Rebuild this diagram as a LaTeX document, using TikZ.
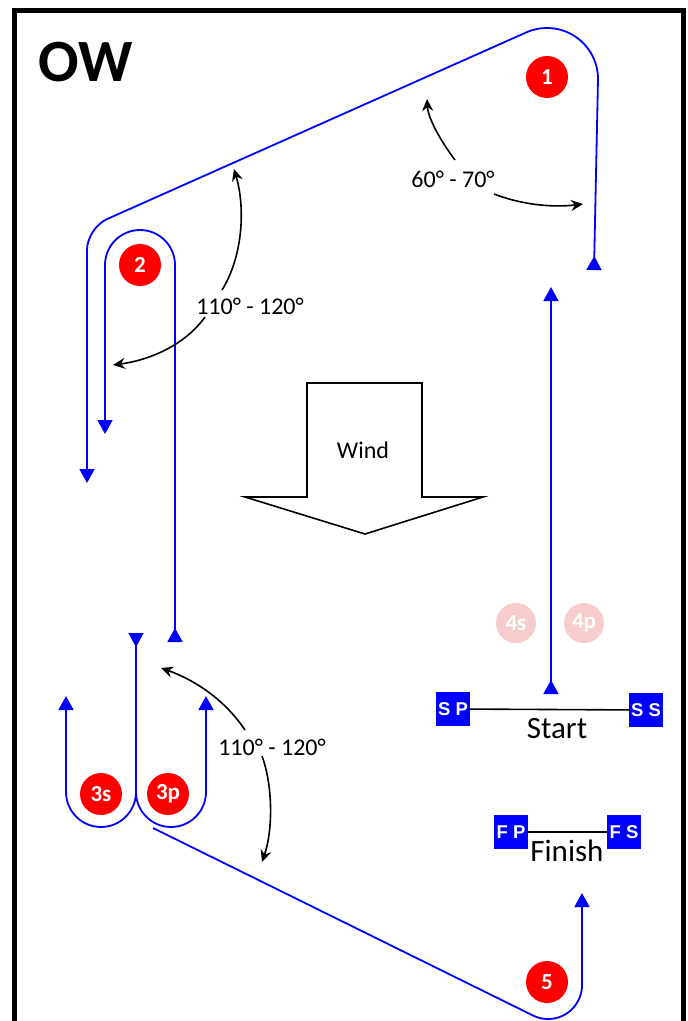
\documentclass[tikz,border=0pt]{standalone}
\usepackage{fontspec}
\setmainfont{Carlito}
\newfontfamily\boxfont{Liberation Sans}
\usepackage{tikz}
\usetikzlibrary{arrows.meta}
\definecolor{markred}{rgb}{1.0, 0.0, 0.0}
\definecolor{markfade}{rgb}{0.97, 0.80, 0.80}
\definecolor{courseblue}{rgb}{0.0, 0.0, 1.0}

\begin{document}
\begin{tikzpicture}[x=1pt, y=-1pt,
    course/.style={draw=courseblue, line width=1.8pt},
    tipend/.style={-{Triangle[width=15pt, length=14pt]}},
    tipboth/.style={{Triangle[reversed, width=15pt, length=14pt]}-{Triangle[width=15pt, length=14pt]}},
    turn/.style={draw=black, line width=1.6pt, -{Stealth[length=12pt, width=11pt, inset=4pt]}},
    anglelabel/.style={font=\fontsize{24}{28}\selectfont, inner sep=1pt}
  ]
    \clip (0,0) rectangle (688,1021);
    \draw[line width=5pt] (14,1030) -- (14,10) -- (683,10) -- (683,1030);
    \node(title)[font=\fontsize{60}{66}\selectfont\bfseries] at (86,62) {OW};

    % marks
    \def\markdata{1/547/77, 2/140/265, 3s/101/794, 3p/168/794, 5/547/982}
    \foreach \lbl/\x/\y in \markdata {
        \node(mark-\lbl)[
            circle,
            fill=markred,
            text=white,
            minimum size=42pt,
            inner sep=0pt,
            font=\fontsize{23}{26}\selectfont\bfseries
        ]
        at (\x,\y) {\lbl};
    }
    \def\fadedata{4s/516/623, 4p/584/623}
    \foreach \lbl/\x/\y in \fadedata {
        \node(mark-\lbl)[
            circle,
            fill=markfade,
            text=white,
            minimum size=40pt,
            inner sep=0pt,
            font=\fontsize{23}{26}\selectfont\bfseries
        ]
        at (\x,\y) {\lbl};
    }

    % start and finish boats
    \def\boatdata{SP/S P/453/709, SS/S S/646/710, FP/F P/511/832, FS/F S/624/832}
    \foreach \name/\txt/\x/\y in \boatdata {
        \node(boat-\name)[
            fill=courseblue,
            text=white,
            minimum width=34pt,
            minimum height=34pt,
            inner sep=0pt,
            font=\boxfont\fontsize{18.5}{20}\selectfont\bfseries
        ]
        at (\x,\y) {\txt};
    }
    \draw[line width=1.6pt] (boat-SP) -- (boat-SS);
    \draw[line width=1.6pt] (boat-FP) -- (boat-FS);
    \node(start-label)[font=\fontsize{31}{34}\selectfont] at (557,729) {Start};
    \node(finish-label)[font=\fontsize{31}{34}\selectfont] at (567,851) {Finish};

    % wind
    \draw[line width=1.6pt] (307,383) -- (422,383) -- (422,497) -- (483,497)
        -- (365,534) -- (245,497) -- (307,497) -- cycle;
    \node(wind)[anglelabel] at (363,450) {Wind};

    % course legs
    \draw[course, tipboth] (551,694) -- (551,287);
    \draw[course, tipboth] (594,270) -- (598,79) arc[start angle=0, end angle=-114, radius=51]
        [rounded corners=22pt] -- (87,228) -- (87,483);
    \draw[course, tipboth] (175,642) -- (175,265) arc[start angle=0, end angle=-180, radius=35]
        -- (105,434);
    \draw[course, tipboth] (136,633) -- (136,792) arc[start angle=0, end angle=180, radius=35]
        -- (66,696);
    \draw[course, tipend] (136,792) arc[start angle=180, end angle=0, radius=35] -- (206,696);
    \draw[course, tipend] (153,828) -- (533,1015.5) arc[start angle=116.3, end angle=0, radius=34]
        -- (582,893);

    % angles
    \node(angle-1)[anglelabel] at (453,179) {60° - 70°};
    \draw[turn] (455,160) .. controls (440,140) and (428,118) .. (427,99);
    \draw[turn] (494,194) .. controls (520,204) and (550,208) .. (583,204);

    \node(angle-2)[anglelabel] at (250,306) {110° - 120°};
    \draw[turn] (222,290) .. controls (242,258) and (246,210) .. (234,169);
    \draw[turn] (205,317) .. controls (185,345) and (150,360) .. (113,365);

    \node(angle-3)[anglelabel] at (272,747) {110° - 120°};
    \draw[turn] (245,730) .. controls (225,700) and (195,680) .. (161,668);
    \draw[turn] (262,756) .. controls (273,786) and (273,830) .. (262,862);

\end{tikzpicture}
\end{document}
